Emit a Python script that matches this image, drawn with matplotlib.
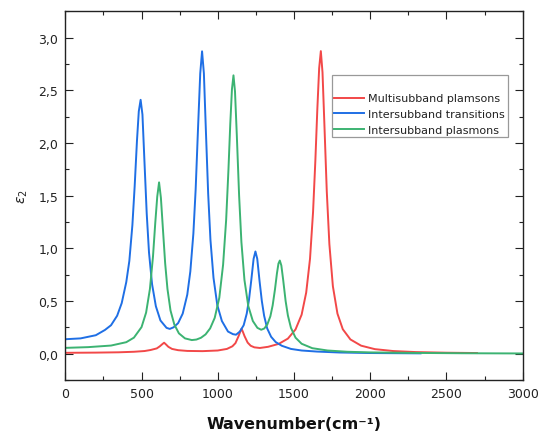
import matplotlib
matplotlib.use("Agg")
import matplotlib.pyplot as plt
from matplotlib.ticker import MultipleLocator

# ---- data ----
series_names = ["Multisubband plamsons", "Intersubband transitions", "Intersubband plasmons"]

red_x = [0, 200, 350, 450, 520, 560, 600, 620, 636, 648, 660, 676, 700, 740, 800, 900, 1000, 1060, 1096, 1116,
         1136, 1148, 1156, 1164, 1176, 1196, 1216, 1240, 1276, 1330, 1400, 1460, 1510, 1550, 1580, 1605, 1625,
         1640, 1653, 1665, 1676, 1687, 1700, 1715, 1732, 1755, 1785, 1820, 1870, 1940, 2030, 2150, 2300, 2500, 2700]
red_y = [0.008, 0.01, 0.013, 0.018, 0.025, 0.035, 0.05, 0.07, 0.09, 0.104, 0.088, 0.065, 0.045, 0.033, 0.026,
         0.024, 0.03, 0.045, 0.07, 0.10, 0.165, 0.21, 0.237, 0.21, 0.165, 0.105, 0.075, 0.06, 0.054, 0.065, 0.093,
         0.143, 0.23, 0.37, 0.58, 0.90, 1.345, 1.83, 2.32, 2.71, 2.872, 2.67, 2.15, 1.54, 1.04, 0.64, 0.38, 0.232,
         0.135, 0.076, 0.043, 0.025, 0.015, 0.009, 0.006]

blue_x = [0, 100, 200, 260, 300, 340, 370, 400, 420, 440, 455, 470, 482, 494, 506, 519, 534, 549, 569, 594,
          624, 664, 685, 710, 740, 770, 800, 820, 840, 855, 870, 885, 897, 909, 922, 937, 952, 972, 997, 1027,
          1067, 1100, 1120, 1145, 1170, 1190, 1205, 1220, 1235, 1247, 1259, 1274, 1289, 1304, 1324, 1350, 1380,
          1420, 1480, 1550, 1650, 1800, 2000, 2330]
blue_y = [0.137, 0.145, 0.175, 0.225, 0.27, 0.36, 0.48, 0.68, 0.88, 1.22, 1.59, 2.02, 2.30, 2.41, 2.27, 1.83,
          1.33, 0.96, 0.66, 0.45, 0.315, 0.245, 0.235, 0.25, 0.29, 0.38, 0.56, 0.78, 1.14, 1.56, 2.12, 2.66, 2.87,
          2.66, 2.12, 1.52, 1.08, 0.72, 0.46, 0.31, 0.21, 0.185, 0.18, 0.21, 0.27, 0.38, 0.515, 0.70, 0.90, 0.97,
          0.90, 0.69, 0.50, 0.36, 0.24, 0.16, 0.11, 0.075, 0.045, 0.03, 0.02, 0.011, 0.006, 0.003]

green_x = [0, 150, 300, 400, 450, 500, 530, 555, 575, 590, 603, 615, 627, 640, 655, 670, 690, 715, 745, 785,
           830, 860, 890, 920, 950, 980, 1010, 1035, 1055, 1070, 1082, 1093, 1103, 1113, 1125, 1140, 1155, 1175,
           1200, 1230, 1260, 1285, 1305, 1325, 1345, 1360, 1375, 1388, 1398, 1407, 1417, 1429, 1445, 1460, 1480,
           1510, 1550, 1620, 1720, 1850, 2000, 2300, 2600, 3000]
green_y = [0.055, 0.062, 0.077, 0.109, 0.152, 0.252, 0.39, 0.614, 0.92, 1.24, 1.49, 1.626, 1.48, 1.19, 0.857,
           0.615, 0.41, 0.277, 0.193, 0.145, 0.129, 0.134, 0.151, 0.183, 0.24, 0.34, 0.53, 0.845, 1.27, 1.745,
           2.18, 2.51, 2.642, 2.49, 2.07, 1.50, 1.06, 0.70, 0.453, 0.31, 0.245, 0.227, 0.239, 0.277, 0.355, 0.458,
           0.608, 0.761, 0.855, 0.884, 0.837, 0.70, 0.50, 0.362, 0.245, 0.152, 0.094, 0.052, 0.03, 0.018, 0.012,
           0.007, 0.004, 0.002]

x_ticks = [0, 500, 1000, 1500, 2000, 2500, 3000]
x_tick_labels = ["0", "500", "1000", "1500", "2000", "2500", "3000"]
y_ticks = [0.0, 0.5, 1.0, 1.5, 2.0, 2.5, 3.0]
y_tick_labels = ["0,0", "0,5", "1,0", "1,5", "2,0", "2,5", "3,0"]

colors = ["#f24848", "#1f6fe5", "#3cb372"]

plt.rcParams["font.family"] = ["DejaVu Sans"]
plt.rcParams["mathtext.fontset"] = "dejavusans"

fig = plt.figure(figsize=(5.53, 4.39), dpi=100)
W, H = 553, 439
ax = fig.add_axes([65.3 / W, 1 - 381 / H, 457.4 / W, 368.7 / H])

for xs, ys, c, name in zip([red_x, blue_x, green_x], [red_y, blue_y, green_y], colors, series_names):
    ax.plot(xs, ys, color=c, lw=1.4, label=name, solid_joinstyle="round")

ax.set_xlim(0, 3000)
ax.set_ylim(-0.25, 3.25)
ax.set_xticks(x_ticks)
ax.set_xticklabels(x_tick_labels)
ax.set_yticks(y_ticks)
ax.set_yticklabels(y_tick_labels)
ax.xaxis.set_minor_locator(MultipleLocator(250))
ax.yaxis.set_minor_locator(MultipleLocator(0.25))
ax.tick_params(which="both", direction="in", top=True, right=True, width=0.8, color="#222222")
ax.tick_params(which="major", length=5.5, labelsize=9, labelcolor="#222222", pad=5)
ax.tick_params(which="minor", length=2.6)
for s in ax.spines.values():
    s.set_linewidth(1.0)
    s.set_color("#222222")

ax.set_xlabel("Wavenumber(cm⁻¹)", fontsize=11.5, fontweight="bold", color="#111111")
ax.xaxis.set_label_coords(0.5, -0.098)
ax.set_ylabel(r"$\varepsilon_2$", fontsize=10, color="#222222")
ax.yaxis.set_label_coords(-0.078, 0.5)

leg = ax.legend(loc="upper left", bbox_to_anchor=(0.582, 0.827), borderaxespad=0, fontsize=8,
                title=" ", title_fontsize=8, frameon=True, fancybox=False, handlelength=2.7,
                handletextpad=0.35, labelspacing=0.5, borderpad=0.25)
leg.get_frame().set_edgecolor("#808080")
leg.get_frame().set_linewidth(0.9)
for t in leg.get_texts():
    t.set_color("#222222")

fig.savefig("out.png", dpi=100)
